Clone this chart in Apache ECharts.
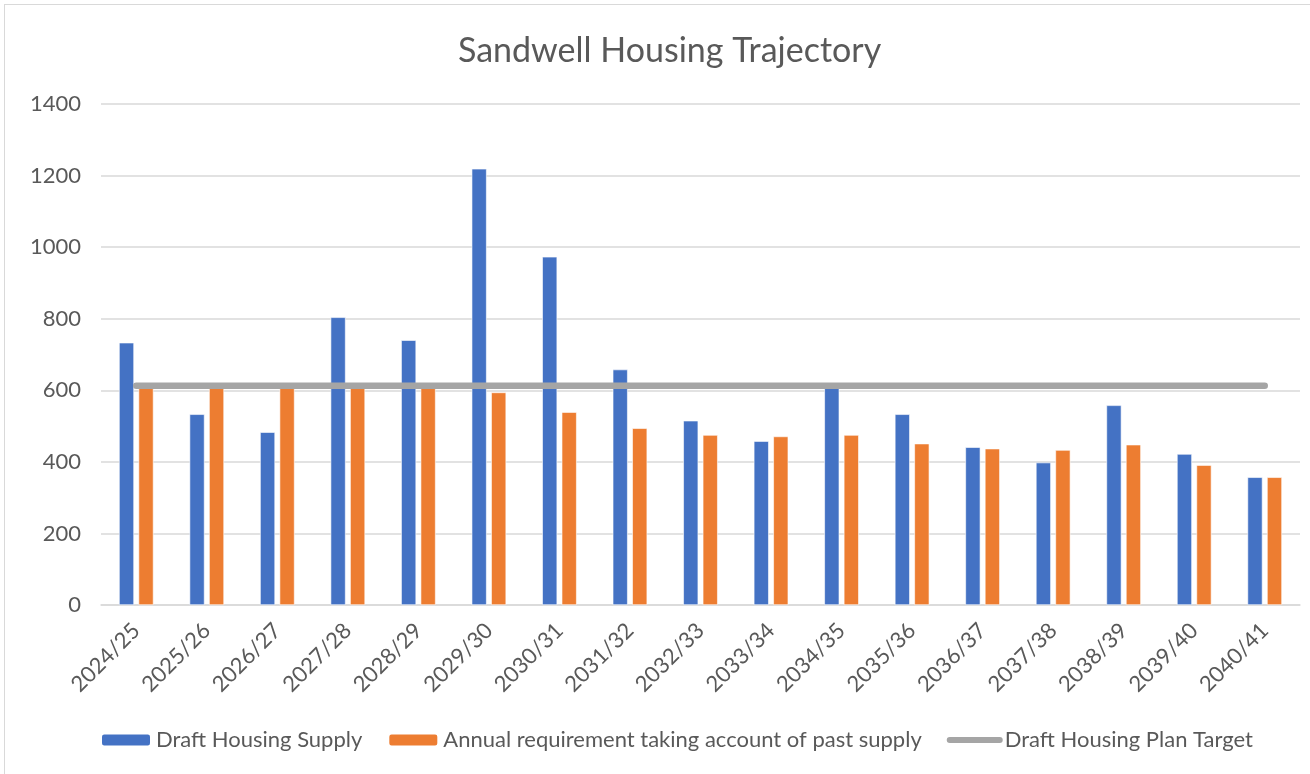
<!DOCTYPE html>
<html>
<head>
<meta charset="utf-8">
<script src="https://cdn.jsdelivr.net/npm/echarts@6/dist/echarts.min.js"></script>
<style>
html,body{margin:0;padding:0;background:#fff;}
#frame{position:absolute;left:4px;top:4px;width:1320px;height:790px;border:1px solid #d9d9d9;box-sizing:border-box;}
#chart{position:absolute;left:0;top:0;width:1310px;height:774px;}
</style>
</head>
<body>
<div id="frame"></div>
<div id="chart"></div>
<script>
const categories = ["2024/25","2025/26","2026/27","2027/28","2028/29","2029/30","2030/31","2031/32","2032/33","2033/34","2034/35","2035/36","2036/37","2037/38","2038/39","2039/40","2040/41"];
const draftSupply = [733,533,483,804,740,1219,973,658,515,458,610,533,441,398,558,422,357];
const annualRequirement = [611,611,611,611,611,594,539,494,475,471,475,451,437,433,448,391,357];
const planTarget = [613,613,613,613,613,613,613,613,613,613,613,613,613,613,613,613,613];
const yTicks = {min:0, max:1400, interval:200};

const FONT = 'Lato';
const TXT = '#595959';
const chart = echarts.init(document.getElementById('chart'), null, {renderer:'canvas'});
chart.setOption({
  animation:false,
  backgroundColor:'transparent',
  textStyle:{fontFamily:FONT},
  title:{text:'Sandwell Housing Trajectory', left:458, top:34, padding:0,
    textStyle:{fontFamily:FONT, fontSize:34, fontWeight:'normal', color:TXT}},
  grid:{left:101, right:10, top:104, bottom:169, containLabel:false},
  legend:{bottom:23, left:100, padding:0, itemWidth:50, itemHeight:13, itemGap:25,
    textStyle:{fontFamily:FONT, fontSize:22, color:TXT},
    data:[{name:'Draft Housing Supply'},{name:'Annual requirement taking account of past supply'},
          {name:'Draft Housing Plan Target', itemStyle:{opacity:0}, lineStyle:{width:6, cap:'round', color:'#A5A5A5'}}]},
  xAxis:{type:'category', data:categories, boundaryGap:true,
    axisLine:{lineStyle:{color:'#d9d9d9', width:1.5}}, axisTick:{show:false},
    axisLabel:{rotate:45, fontFamily:FONT, fontSize:22, color:TXT, margin:22, interval:0}},
  yAxis:{type:'value', min:yTicks.min, max:yTicks.max, interval:yTicks.interval,
    axisLine:{show:false}, axisTick:{show:false},
    axisLabel:{fontFamily:FONT, fontSize:22, color:TXT, margin:20, formatter:function(v){return String(v);}},
    splitLine:{lineStyle:{color:'#d9d9d9', width:1.5}}},
  series:[
    {name:'Draft Housing Supply', type:'bar', data:draftSupply, barWidth:15, barGap:'30%',
      itemStyle:{color:'#4472C4', borderColor:'#ffffff', borderWidth:0.6}},
    {name:'Annual requirement taking account of past supply', type:'bar', data:annualRequirement, barWidth:15,
      itemStyle:{color:'#ED7D31', borderColor:'#ffffff', borderWidth:0.6}},
    {name:'Draft Housing Plan Target', type:'line', data:planTarget, symbol:'none',
      lineStyle:{color:'#A5A5A5', width:6.5, cap:'round'}, itemStyle:{color:'#A5A5A5'}, z:5}
  ]
});
</script>
</body>
</html>
